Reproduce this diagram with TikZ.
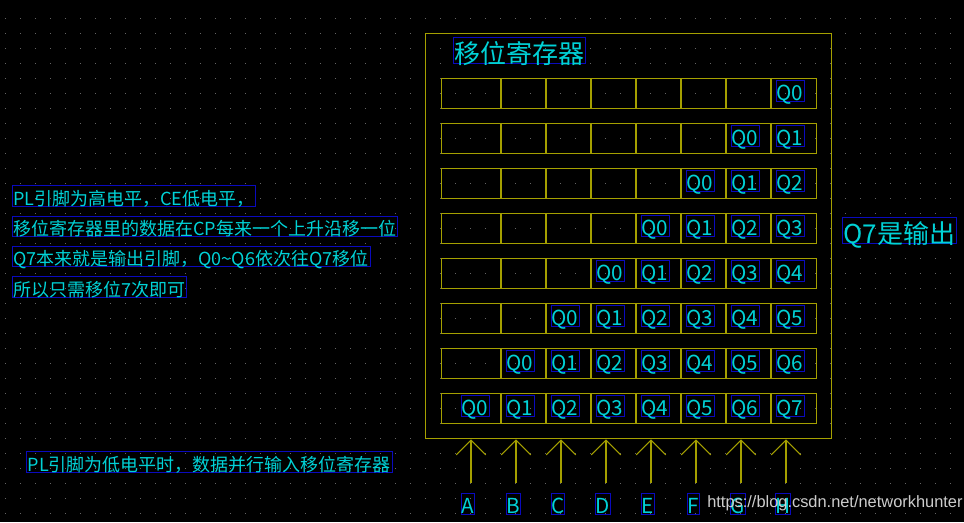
\documentclass[tikz,border=0pt]{standalone}
\usepackage{fontspec}
\setmainfont{Noto Sans CJK SC}
\newfontfamily\wmfont{Liberation Sans}
\usetikzlibrary{arrows.meta}
\definecolor{regline}{RGB}{165,160,0}
\definecolor{cyantext}{RGB}{0,210,215}
\definecolor{lblbox}{RGB}{10,10,190}
\definecolor{griddot}{RGB}{100,100,100}
\definecolor{wmgray}{RGB}{205,205,205}
\tikzset{
  boxline/.style={draw=regline, line width=1.1pt},
  rowbox/.style={boxline, anchor=north west, minimum width=281.25pt, minimum height=22.5pt, inner sep=0pt},
  qlbl/.style={draw=lblbox, line width=0.6pt, text=cyantext, font=\fontsize{15.5}{17}\selectfont, inner xsep=0.4pt, inner ysep=0pt, text height=14.9pt, text depth=0.8pt},
  note/.style={draw=lblbox, line width=0.6pt, text=cyantext, font=\fontsize{13.5}{16}\selectfont, inner xsep=1pt, inner ysep=0pt, text height=14.6pt, text depth=0.6pt, anchor=west},
  bignote/.style={draw=lblbox, line width=0.6pt, text=cyantext, font=\fontsize{19.5}{22}\selectfont, inner xsep=1pt, inner ysep=0pt, text height=19.6pt, text depth=0.4pt},
  inarrow/.style={draw=regline, line width=0.8pt, -{Straight Barb[length=11pt,width=22pt]}}
}
\begin{document}
\begin{tikzpicture}[x=0.75pt,y=-0.75pt]
\fill[black] (0,0) rectangle (964,522);
\useasboundingbox (0,0) rectangle (964,522);
% grid dots
\foreach \i in {0,...,63}{\foreach \j in {0,...,33}{\fill[griddot] (4.5+15*\i,17.5+15*\j) rectangle ++(1.1,1.1);}}
% register box
\node (reg) [boxline, anchor=north west, minimum width=304.5pt, minimum height=303.75pt, inner sep=0pt] at (425,33) {};
\node (title) [bignote] at (519.5,50.5) {移位寄存器};
% rows
\foreach \k in {0,...,7}{
  \node (row\k) [rowbox] at (441,78+45*\k) {};
  \foreach \m in {0,...,6}{\draw[regline, line width=1.1pt] (501+45*\m,78+45*\k) -- ++(0,30);}
  \foreach \i in {0,...,7}{
    \pgfmathtruncatemacro{\n}{\i-7+\k}
    \ifnum\n>-1
      \node (q\k-\i) [qlbl] at (475+45*\i,91.3+45*\k) {Q\n};
    \fi
  }
}
% inputs
\foreach \i/\L in {0/A,1/B,2/C,3/D,4/E,5/F,6/G,7/H}{
  \coordinate (in\i) at (471+45*\i,483);
  \draw[inarrow] (in\i) -- (in\i |- reg.south);
  \node (let\i) [qlbl, inner xsep=0.2pt] at (468+45*\i,504) {\L};
}
% notes
\node (n1) [note] at (11.5,196) {PL引脚为高电平，CE低电平，};
\node (n2) [note] at (11.5,226.5) {移位寄存器里的数据在CP每来一个上升沿移一位};
\node (n3) [note] at (11.5,256.5) {Q7本来就是输出引脚，Q0\textasciitilde Q6依次往Q7移位};
\node (n4) [note] at (11.5,287) {所以只需移位7次即可};
\node (n5) [note] at (26,462) {PL引脚为低电平时，数据并行输入移位寄存器};
\node (out) [bignote] at (899.5,230.5) {Q7是输出};
% watermark
\node (wm) [anchor=west, text=wmgray, font=\wmfont\fontsize{12.3}{14}\selectfont, inner sep=0pt] at (707,503) {https://blog.csdn.net/networkhunter};
\end{tikzpicture}
\end{document}
